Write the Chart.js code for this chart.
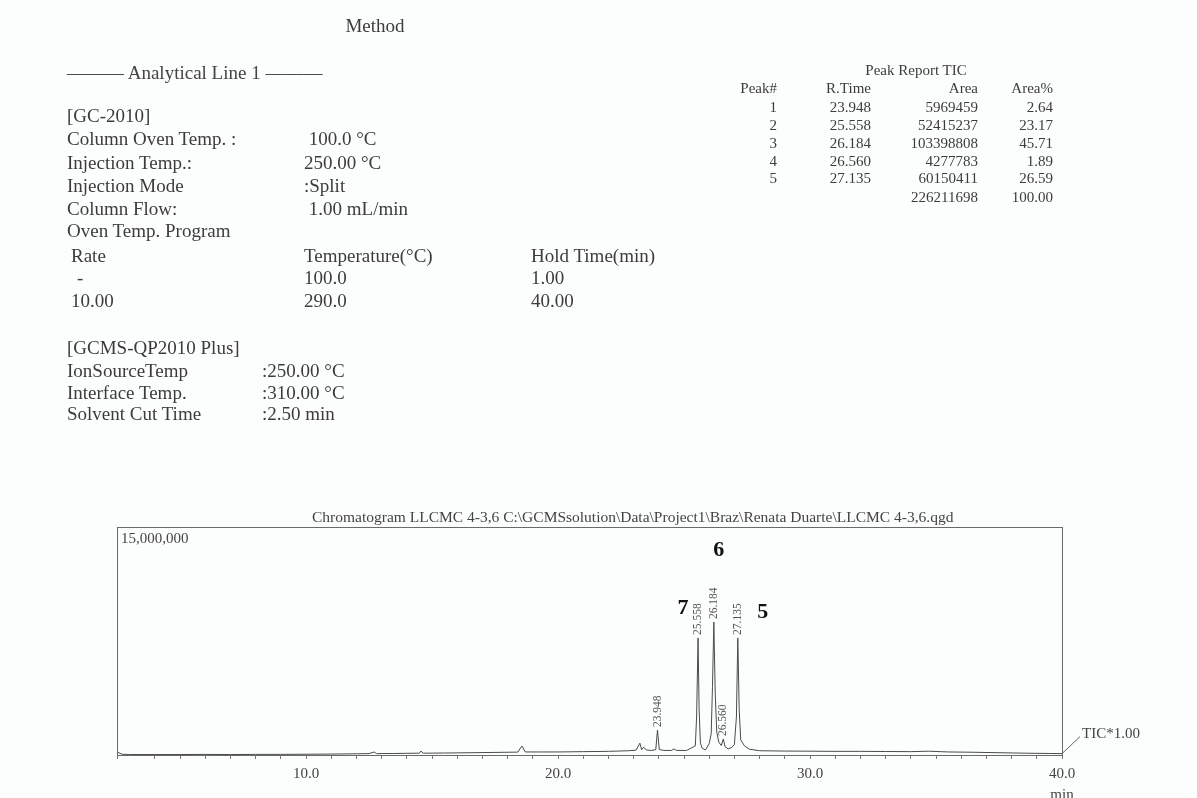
<!DOCTYPE html>
<html><head><meta charset="utf-8">
<script src="https://cdn.jsdelivr.net/npm/chart.js@4.4.1/dist/chart.umd.min.js"></script>
<style>
html,body{margin:0;padding:0;background:#fcfdfd;}
#wrap{position:relative;width:1197px;height:798px;overflow:hidden;font-family:'Liberation Serif','Times New Roman',serif;color:#3c3c3c;}
canvas{position:absolute;left:0;top:0;}
.t{position:absolute;white-space:pre;}
</style></head><body><div id="wrap"><canvas id="c" width="1197" height="798"></canvas></div>
<script>
// ---- chromatogram trace (min, counts) ----
const traceTime = [2.50,2.70,3.0,4.0,5.0,6.0,7.0,8.0,9.0,10.0,11.0,12.0,12.5,12.7,12.8,13.5,14.0,14.5,14.56,14.65,15.5,16.5,17.5,18.4,18.57,18.7,19.2,20.0,21.0,22.0,22.8,23.1,23.25,23.32,23.4,23.5,23.7,23.88,23.948,24.02,24.2,24.5,24.6,24.7,25.1,25.36,25.45,25.50,25.558,25.60,25.65,25.72,25.85,26.0,26.08,26.13,26.184,26.24,26.30,26.38,26.48,26.56,26.63,26.75,26.9,27.0,27.08,27.135,27.19,27.25,27.40,27.6,28.0,29.0,30.0,31.0,32.0,33.0,34.0,34.7,35.5,36.5,37.5,38.5,39.5,40.0];
const traceSignal = [200000,50000,30000,30000,30000,40000,30000,40000,40000,50000,60000,80000,90000,200000,90000,100000,110000,120000,260000,120000,130000,150000,170000,190000,590000,200000,200000,200000,220000,240000,280000,320000,780000,350000,520000,330000,300000,350000,1640000,360000,300000,300000,400000,300000,300000,520000,600000,2500000,7700000,3000000,800000,450000,330000,750000,1400000,4500000,8750000,4000000,1500000,850000,620000,1050000,550000,400000,500000,700000,2500000,7700000,3000000,1000000,600000,380000,280000,260000,250000,240000,240000,230000,220000,250000,200000,180000,150000,120000,100000,90000];

// ---- peaks ----
const peakNo = ['1','2','3','4','5'];
const peakRTime = [23.948, 25.558, 26.184, 26.560, 27.135];
const peakHeight = [1640000, 7700000, 8750000, 1050000, 7700000];
const peakArea = ['5969459','52415237','103398808','4277783','60150411'];
const peakAreaPct = ['2.64','23.17','45.71','1.89','26.59'];
const totalArea = '226211698';
const totalPct = '100.00';
const compoundPeakIndex = [1, 2, 4];
const compoundLabel = ['7', '6', '5'];

// ---- axes ----
const xMin = 2.5, xMax = 40;
const xLabeledTicks = [10, 20, 30, 40];
const yMax = 15000000;
const yTopLabel = '15,000,000';
const chromTitle = 'Chromatogram LLCMC 4-3,6 C:\\GCMSsolution\\Data\\Project1\\Braz\\Renata Duarte\\LLCMC 4-3,6.qgd';

// ---- method text ----
const gcLabels = ['Column Oven Temp. :','Injection Temp.:','Injection Mode','Column Flow:','Oven Temp. Program'];
const gcValues = [' 100.0 °C','250.00 °C',':Split',' 1.00 mL/min',''];
const progRate = ['Rate','-','10.00'];
const progTemp = ['Temperature(°C)','100.0','290.0'];
const progHold = ['Hold Time(min)','1.00','40.00'];
const msLabels = ['IonSourceTemp','Interface Temp.','Solvent Cut Time'];
const msValues = [':250.00 °C',':310.00 °C',':2.50 min'];

const wrap = document.getElementById('wrap');
function addText(txt, x, yc, size, align, extra) {
  const d = document.createElement('div');
  d.className = 't';
  d.textContent = txt;
  d.style.fontSize = size + 'px';
  d.style.lineHeight = (size + 4) + 'px';
  d.style.top = (yc - (size + 4) / 2) + 'px';
  if (align === 'right') { d.style.left = (x - 400) + 'px'; d.style.width = '400px'; d.style.textAlign = 'right'; }
  else if (align === 'center') { d.style.left = (x - 200) + 'px'; d.style.width = '400px'; d.style.textAlign = 'center'; }
  else d.style.left = x + 'px';
  if (extra) Object.assign(d.style, extra);
  wrap.appendChild(d);
}
// method block
const M = 19;
addText('Method', 375, 25, M, 'center');
addText('\u2014\u2014\u2014 Analytical Line 1 \u2014\u2014\u2014', 67, 72, M, 'left', {color:'#444'});
addText('[GC-2010]', 67, 115, M);
const gcY = [138, 162, 185, 208, 230];
gcLabels.forEach((s, i) => { addText(s, 67, gcY[i], M); addText(gcValues[i], 304, gcY[i], M); });
const progY = [255, 277, 300];
progRate.forEach((s, i) => addText(s, i === 1 ? 77 : 71, progY[i], M));
progTemp.forEach((s, i) => addText(s, 304, progY[i], M));
progHold.forEach((s, i) => addText(s, 531, progY[i], M));
addText('[GCMS-QP2010 Plus]', 67, 347, M);
const msY = [370, 392, 413];
msLabels.forEach((s, i) => { addText(s, 67, msY[i], M); addText(msValues[i], 262, msY[i], M); });

// peak report table
const S = 15;
addText('Peak Report TIC', 916, 70, S, 'center');
addText('Peak#', 777, 88, S, 'right');
addText('R.Time', 871, 88, S, 'right');
addText('Area', 978, 88, S, 'right');
addText('Area%', 1053, 88, S, 'right');
const rowY = [107, 125, 143, 161, 178];
peakNo.forEach((p, i) => {
  addText(p, 777, rowY[i], S, 'right');
  addText(peakRTime[i].toFixed(3), 871, rowY[i], S, 'right');
  addText(peakArea[i], 978, rowY[i], S, 'right');
  addText(peakAreaPct[i], 1053, rowY[i], S, 'right');
});
addText(totalArea, 978, 197, S, 'right');
addText(totalPct, 1053, 197, S, 'right');

const FONT = "'Liberation Serif','Times New Roman',serif";
const overlay = {
  id: 'overlay',
  afterDraw(chart) {
    const {ctx, chartArea: a, scales: {x, y}} = chart;
    ctx.save();
    // frame
    ctx.strokeStyle = '#6a6a6a'; ctx.lineWidth = 1;
    ctx.strokeRect(Math.round(a.left) + 0.5, Math.round(a.top) + 0.5, Math.round(a.right - a.left), Math.round(a.bottom - a.top));
    ctx.fillStyle = '#444';
    // title
    ctx.font = '15.5px ' + FONT; ctx.textBaseline = 'alphabetic'; ctx.textAlign = 'left';
    ctx.fillText(chromTitle, a.left + 195, a.top - 5);
    // y top label
    ctx.font = '15px ' + FONT; ctx.textBaseline = 'middle';
    ctx.fillText(yTopLabel, a.left + 4, y.getPixelForValue(yMax) + 12);
    // peak retention-time labels
    ctx.font = '11.5px ' + FONT; ctx.fillStyle = '#555';
    const tops = [];
    peakRTime.forEach((t, i) => {
      const px = x.getPixelForValue(t), py = y.getPixelForValue(peakHeight[i]);
      const txt = t.toFixed(3);
      const w = ctx.measureText(txt).width;
      ctx.save(); ctx.translate(px, py - 3); ctx.rotate(-Math.PI / 2);
      ctx.textAlign = 'left'; ctx.textBaseline = 'middle';
      ctx.fillText(txt, 0, 0); ctx.restore();
      tops.push({px, top: py - 3 - w});
    });
    // compound numbers
    ctx.font = 'bold 22px ' + FONT; ctx.fillStyle = '#111'; ctx.textAlign = 'center'; ctx.textBaseline = 'middle';
    const off = [[-15, 5], [5, -37], [25, 9]];
    compoundPeakIndex.forEach((pi, k) => {
      const p = tops[pi];
      ctx.fillText(compoundLabel[k], p.px + off[k][0], p.top + off[k][1]);
    });
    // TIC*1.00 leader
    const endY = y.getPixelForValue(traceSignal[traceSignal.length - 1]);
    ctx.strokeStyle = '#666'; ctx.beginPath();
    ctx.moveTo(a.right, endY); ctx.lineTo(a.right + 18, endY - 17); ctx.stroke();
    ctx.font = '15px ' + FONT; ctx.fillStyle = '#444'; ctx.textAlign = 'left'; ctx.textBaseline = 'middle';
    ctx.fillText('TIC*1.00', a.right + 20, endY - 20);
    // min unit
    ctx.textAlign = 'center';
    ctx.fillText('min', a.right, a.bottom + 40);
    ctx.restore();
  }
};

new Chart(document.getElementById('c'), {
  type: 'line',
  data: { datasets: [{
    data: traceTime.map((t, i) => ({x: t, y: traceSignal[i]})),
    borderColor: '#4a4a4a', borderWidth: 1, pointRadius: 0, tension: 0, fill: false
  }]},
  options: {
    responsive: false, animation: false, events: [],
    layout: { padding: { left: 117, right: 135, top: 527, bottom: 0 } },
    plugins: { legend: { display: false }, tooltip: { enabled: false }, title: { display: false } },
    scales: {
      x: {
        type: 'linear', min: xMin, max: xMax,
        afterFit: s => { s.height = 43; },
        ticks: {
          stepSize: 1, autoSkip: false, maxRotation: 0, padding: 6, color: '#444',
          font: { family: FONT, size: 15 },
          callback: v => xLabeledTicks.includes(v) ? v.toFixed(1) : ''
        },
        grid: { drawOnChartArea: false, tickLength: 4, color: '#777' },
        border: { display: false }
      },
      y: { display: false, min: 0, max: yMax }
    }
  },
  plugins: [overlay]
});
</script></body></html>
